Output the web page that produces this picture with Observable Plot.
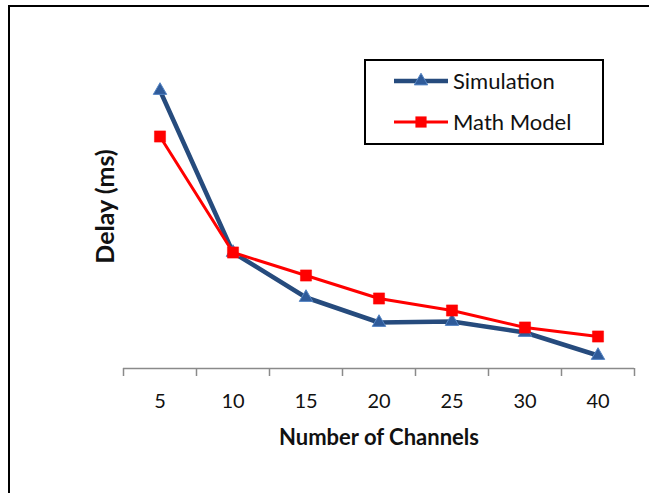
<!DOCTYPE html>
<html><head><meta charset="utf-8">
<script src="https://cdn.jsdelivr.net/npm/d3@7"></script>
<script src="https://cdn.jsdelivr.net/npm/@observablehq/plot@0.6"></script>
<style>
body{margin:0;background:#fff;}
#wrap{position:relative;width:649px;height:493px;overflow:hidden;font-family:Lato,sans-serif;background:#fff;}
#frame{position:absolute;left:8px;top:5px;width:700px;height:600px;border:2px solid #000;box-sizing:border-box;}
#chart{position:absolute;left:0;top:0;}
#legend{position:absolute;left:364px;top:59px;}
</style></head><body>
<div id="wrap"><div id="frame"></div><div id="chart"></div><div id="legend"></div></div>
<script>
const channels = ["5","10","15","20","25","30","40"];
const simulation = [27.8, 11.6, 7.1, 4.6, 4.7, 3.6, 1.3];
const mathModel = [23.2, 11.6, 9.3, 7.0, 5.8, 4.1, 3.2];
const seriesNames = ["Simulation", "Math Model"];

const simRows = channels.map((c, i) => ({channel: c, delay: simulation[i]}));
const mathRows = channels.map((c, i) => ({channel: c, delay: mathModel[i]}));

const W = 649, H = 493, mL = 123, mR = 15, mT = 68, mB = 125;
const bw = (W - mL - mR) / channels.length;
const axisGray = "#8a8a8a";
const simStroke = "#264b7d", simFill = "#2f5b9a", simEdge = "#5585c4";
const mathColor = "#ff0000";

const chart = Plot.plot({
  width: W, height: H,
  marginLeft: mL, marginRight: mR, marginTop: mT, marginBottom: mB,
  style: {fontFamily: "Lato, sans-serif", background: "transparent", overflow: "visible"},
  x: {type: "band", domain: channels, padding: 0, axis: null},
  y: {domain: [0, 30], axis: null},
  marks: [
    Plot.ruleY([0], {stroke: axisGray, strokeWidth: 1.5}),
    Plot.ruleX(channels, {x: d => d, y1: 0, y2: -0.8, dx: -bw / 2, stroke: axisGray, strokeWidth: 1.5}),
    Plot.ruleX([channels[channels.length - 1]], {x: d => d, y1: 0, y2: -0.8, dx: bw / 2, stroke: axisGray, strokeWidth: 1.5}),
    Plot.axisX({tickSize: 0, tickPadding: 25, fontSize: 20, fill: "#111", label: null}),
    Plot.text(["Number of Channels"], {frameAnchor: "bottom", dy: 69, lineAnchor: "middle", fontSize: 22, fontWeight: "bold", fill: "#111"}),
    Plot.text(["Delay (ms)"], {frameAnchor: "left", textAnchor: "middle", rotate: -90, dx: -18, dy: -12, lineAnchor: "middle", fontSize: 25, fontWeight: "bold", fill: "#111"}),
    Plot.line(simRows, {x: "channel", y: "delay", stroke: simStroke, strokeWidth: 4.5}),
    Plot.dot(simRows, {x: "channel", y: "delay", symbol: "triangle", r: 5, fill: simFill, stroke: simEdge, strokeWidth: 1}),
    Plot.line(mathRows, {x: "channel", y: "delay", stroke: mathColor, strokeWidth: 3}),
    Plot.dot(mathRows, {x: "channel", y: "delay", symbol: "square", r: 6.3, fill: mathColor, stroke: mathColor, strokeWidth: 0.5})
  ]
});
document.getElementById("chart").appendChild(chart);

// legend
const lw = 240, lh = 86;
const lg = d3.create("svg").attr("width", lw).attr("height", lh).style("font-family", "Lato, sans-serif");
lg.append("rect").attr("x", 1).attr("y", 1).attr("width", lw - 2).attr("height", lh - 2).attr("fill", "#fff").attr("stroke", "#000").attr("stroke-width", 2);
const rowsY = [22, 63];
lg.append("line").attr("x1", 30).attr("x2", 84).attr("y1", rowsY[0]).attr("y2", rowsY[0]).attr("stroke", simStroke).attr("stroke-width", 4.5);
lg.append("path").attr("transform", `translate(57,${rowsY[0]})`).attr("d", d3.symbol(d3.symbolTriangle, Math.PI * 25)()).attr("fill", simFill).attr("stroke", simEdge);
lg.append("text").attr("x", 89).attr("y", rowsY[0]).attr("dy", "0.36em").attr("font-size", 22).attr("fill", "#111").text(seriesNames[0]);
lg.append("line").attr("x1", 30).attr("x2", 84).attr("y1", rowsY[1]).attr("y2", rowsY[1]).attr("stroke", mathColor).attr("stroke-width", 3);
lg.append("path").attr("transform", `translate(57,${rowsY[1]})`).attr("d", d3.symbol(d3.symbolSquare, Math.PI * 6.3 * 6.3)()).attr("fill", mathColor);
lg.append("text").attr("x", 89).attr("y", rowsY[1]).attr("dy", "0.36em").attr("font-size", 22).attr("fill", "#111").text(seriesNames[1]);
document.getElementById("legend").appendChild(lg.node());
</script>
</body></html>
